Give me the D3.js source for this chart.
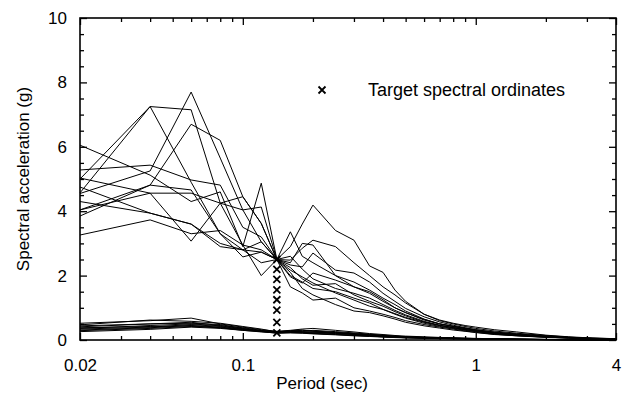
<!DOCTYPE html>
<html>
<head>
<meta charset="utf-8">
<script src="https://cdn.jsdelivr.net/npm/d3@7"></script>
<style>
  body { margin: 0; background: #fff; }
  text { font-family: "Liberation Sans", Arial, sans-serif; }
</style>
</head>
<body>
<div id="chart"></div>
<script>
// Data
const periods = [0.02, 0.04, 0.06, 0.08, 0.1, 0.12, 0.14, 0.16, 0.18, 0.2, 0.25, 0.3, 0.35, 0.4,
  0.45, 0.5, 0.6, 0.7, 0.8, 0.9, 1, 1.2, 1.5, 2, 2.5, 3, 4];

// scaled spectra (pass through the target at 0.14 s)
const scaled = [
  [4.55,5.25,7.7,5.65,4.04,3.05,2.5,2.17,1.96,1.77,1.46,1.24,1.05,0.95,0.82,0.7,0.55,0.45,0.38,0.32,0.27,0.2,0.15,0.1,0.07,0.05,0.03],
  [4.57,7.25,7.15,4.25,2.95,2.8,2.5,1.96,1.77,2.08,1.86,1.65,1.45,1.2,1.0,0.85,0.62,0.5,0.42,0.35,0.3,0.22,0.16,0.11,0.08,0.05,0.03],
  [5.0,7.25,4.9,3.3,2.8,2.73,2.5,2.33,2.27,2.7,2.17,2.08,1.8,1.45,1.2,0.98,0.72,0.56,0.46,0.38,0.32,0.25,0.19,0.12,0.08,0.06,0.03],
  [3.85,4.81,6.7,6.2,4.45,3.62,2.5,2.48,2.85,3.1,2.9,2.4,2.0,1.65,1.4,1.15,0.8,0.6,0.5,0.42,0.36,0.28,0.21,0.14,0.09,0.06,0.04],
  [4.04,4.56,4.56,4.25,4.04,4.13,2.5,2.9,3.6,4.19,3.4,3.1,2.3,2.1,1.55,1.2,0.8,0.62,0.52,0.45,0.4,0.32,0.25,0.15,0.1,0.07,0.04],
  [6.05,5.12,4.3,4.6,2.9,4.87,2.5,3.36,2.6,2.4,2.0,1.8,1.55,1.3,1.1,0.9,0.65,0.5,0.42,0.36,0.3,0.22,0.17,0.11,0.08,0.05,0.03],
  [3.26,3.73,3.3,3.4,2.95,2.0,2.5,1.65,1.46,1.24,1.3,1.0,0.9,0.8,0.7,0.6,0.48,0.4,0.34,0.28,0.24,0.18,0.13,0.09,0.06,0.04,0.02],
  [5.03,4.56,3.07,4.25,4.45,3.62,2.5,2.0,1.8,1.6,1.5,1.3,1.15,0.95,0.8,0.68,0.52,0.42,0.36,0.3,0.26,0.19,0.14,0.09,0.06,0.04,0.02],
  [4.04,4.81,4.66,3.3,2.58,2.73,2.5,2.25,1.9,1.7,1.75,1.4,1.2,1.05,0.88,0.75,0.56,0.45,0.38,0.32,0.28,0.21,0.16,0.1,0.07,0.05,0.03],
  [4.3,3.94,3.6,2.9,2.8,3.05,2.5,2.4,3.0,2.95,2.0,1.65,1.5,1.25,1.0,0.85,0.64,0.5,0.43,0.37,0.32,0.24,0.18,0.12,0.08,0.05,0.03],
  [5.28,5.43,4.97,4.81,3.5,3.2,2.5,2.1,1.6,1.4,1.1,0.9,0.85,0.75,0.65,0.55,0.44,0.37,0.31,0.27,0.23,0.17,0.13,0.08,0.06,0.04,0.02],
  [4.75,3.94,3.6,3.0,2.8,2.4,2.5,2.6,2.2,1.9,1.6,1.45,1.3,1.1,0.92,0.78,0.58,0.46,0.39,0.33,0.28,0.21,0.16,0.1,0.07,0.05,0.03]
];

// unscaled spectra
const unscaled = [
  [0.52,0.6,0.68,0.5,0.4,0.32,0.27,0.3,0.34,0.36,0.3,0.25,0.2,0.17,0.14,0.12,0.1,0.08,0.07,0.06,0.05,0.04,0.03,0.02,0.015,0.01,0.01],
  [0.47,0.62,0.58,0.52,0.42,0.34,0.25,0.28,0.3,0.28,0.24,0.2,0.17,0.14,0.12,0.1,0.08,0.07,0.06,0.05,0.045,0.035,0.025,0.018,0.012,0.01,0.01],
  [0.41,0.5,0.55,0.45,0.38,0.3,0.24,0.26,0.25,0.24,0.22,0.18,0.15,0.12,0.1,0.09,0.07,0.06,0.05,0.045,0.04,0.03,0.02,0.015,0.01,0.008,0.005],
  [0.36,0.45,0.5,0.44,0.35,0.28,0.23,0.24,0.27,0.3,0.26,0.22,0.18,0.15,0.12,0.1,0.08,0.065,0.055,0.05,0.045,0.035,0.025,0.015,0.01,0.008,0.005],
  [0.31,0.38,0.45,0.4,0.33,0.27,0.22,0.23,0.22,0.2,0.18,0.15,0.12,0.1,0.085,0.07,0.06,0.05,0.04,0.035,0.03,0.025,0.02,0.012,0.008,0.006,0.004],
  [0.26,0.33,0.4,0.36,0.3,0.26,0.21,0.22,0.21,0.19,0.16,0.13,0.11,0.09,0.075,0.065,0.05,0.042,0.036,0.032,0.028,0.022,0.016,0.01,0.007,0.005,0.003],
  [0.44,0.5,0.52,0.48,0.36,0.29,0.26,0.29,0.31,0.27,0.23,0.19,0.16,0.13,0.11,0.095,0.075,0.062,0.052,0.046,0.04,0.032,0.024,0.016,0.011,0.008,0.005],
  [0.38,0.42,0.44,0.38,0.32,0.27,0.24,0.25,0.24,0.22,0.2,0.17,0.14,0.11,0.095,0.08,0.065,0.055,0.046,0.04,0.035,0.028,0.02,0.013,0.009,0.006,0.004],
  [0.34,0.4,0.48,0.42,0.34,0.28,0.25,0.27,0.26,0.25,0.21,0.17,0.14,0.12,0.1,0.085,0.068,0.056,0.048,0.042,0.037,0.03,0.022,0.014,0.01,0.007,0.004],
  [0.29,0.36,0.42,0.38,0.3,0.25,0.22,0.24,0.23,0.21,0.17,0.14,0.12,0.1,0.085,0.072,0.058,0.048,0.04,0.035,0.03,0.024,0.018,0.011,0.008,0.005,0.003]
];

const targetPeriod = 0.14;
const targetValues = [2.5, 2.19, 1.88, 1.56, 1.25, 0.93, 0.55, 0.22];

const xMajor = [0.02, 0.1, 1, 4];
const xMinor = [0.03, 0.04, 0.05, 0.06, 0.07, 0.08, 0.09, 0.2, 0.3, 0.4, 0.5, 0.6, 0.7, 0.8, 0.9, 2, 3];
const yMajor = [0, 2, 4, 6, 8, 10];
const yMinor = d3.range(0.5, 10, 0.5).filter(v => v % 2 !== 0);

// Set up the SVG
const width = 629;
const height = 396;
const margin = { top: 18, right: 13, bottom: 56, left: 80 };
const w = width - margin.left - margin.right;
const h = height - margin.top - margin.bottom;

const svg = d3.select("#chart")
  .append("svg")
  .attr("width", width)
  .attr("height", height);

const g = svg.append("g")
  .attr("transform", `translate(${margin.left},${margin.top})`);

// Scales
const x = d3.scaleLog().domain([0.02, 4]).range([0, w]);
const y = d3.scaleLinear().domain([0, 10]).range([h, 0]);

const line = d3.line()
  .x((d, i) => x(periods[i]))
  .y(d => y(d));

// Spectra
g.selectAll(".lo")
  .data(unscaled)
  .enter()
  .append("path")
  .attr("class", "lo")
  .attr("d", line)
  .attr("fill", "none")
  .attr("stroke", "#000")
  .attr("stroke-width", 1);

g.selectAll(".hi")
  .data(scaled)
  .enter()
  .append("path")
  .attr("class", "hi")
  .attr("d", line)
  .attr("fill", "none")
  .attr("stroke", "#000")
  .attr("stroke-width", 1);

// Target markers
const cross = (sel, s) => sel.append("path")
  .attr("d", `M${-s},${-s}L${s},${s}M${-s},${s}L${s},${-s}`)
  .attr("stroke", "#000")
  .attr("stroke-width", 1.8)
  .attr("fill", "none");

g.selectAll(".target")
  .data(targetValues)
  .enter()
  .append("g")
  .attr("class", "target")
  .attr("transform", d => `translate(${x(targetPeriod)},${y(d)})`)
  .each(function () { cross(d3.select(this), 3.5); });

// Axes (ticks point inward)
function strip(sel) {
  sel.select(".domain").remove();
  sel.selectAll("text")
    .attr("font-family", "'Liberation Sans', Arial, sans-serif")
    .attr("font-size", 17)
    .attr("fill", "#000");
  sel.selectAll("line").attr("stroke", "#000").attr("stroke-width", 1.3);
}

g.append("g").attr("transform", `translate(0,${h})`)
  .call(d3.axisBottom(x).tickValues(xMinor).tickSize(-4).tickFormat("")).call(strip);
g.append("g").attr("transform", `translate(0,${h})`)
  .call(d3.axisBottom(x).tickValues(xMajor).tickSize(-7).tickPadding(19).tickFormat(d3.format("~g"))).call(strip);
g.append("g")
  .call(d3.axisTop(x).tickValues(xMinor).tickSize(-4).tickFormat("")).call(strip);
g.append("g")
  .call(d3.axisTop(x).tickValues(xMajor).tickSize(-7).tickFormat("")).call(strip);

g.append("g")
  .call(d3.axisLeft(y).tickValues(yMinor).tickSize(-4).tickFormat("")).call(strip);
g.append("g")
  .call(d3.axisLeft(y).tickValues(yMajor).tickSize(-7).tickPadding(13).tickFormat(d3.format("d"))).call(strip);
g.append("g").attr("transform", `translate(${w},0)`)
  .call(d3.axisRight(y).tickValues(yMinor).tickSize(-4).tickFormat("")).call(strip);
g.append("g").attr("transform", `translate(${w},0)`)
  .call(d3.axisRight(y).tickValues(yMajor).tickSize(-7).tickFormat("")).call(strip);

// Frame
g.append("rect")
  .attr("width", w)
  .attr("height", h)
  .attr("fill", "none")
  .attr("stroke", "#000")
  .attr("stroke-width", 1.6);

// Axis titles
svg.append("text")
  .attr("x", 322)
  .attr("y", 389)
  .attr("text-anchor", "middle")
  .attr("font-size", 17)
  .text("Period (sec)");

svg.append("text")
  .attr("transform", `translate(29,${margin.top + h / 2}) rotate(-90)`)
  .attr("text-anchor", "middle")
  .attr("font-size", 17)
  .text("Spectral acceleration (g)");

// Legend
const legend = svg.append("g").attr("transform", "translate(322,90)");
cross(legend, 3.5);
legend.append("text")
  .attr("x", 46)
  .attr("y", 6)
  .attr("font-size", 18)
  .text("Target spectral ordinates");
</script>
</body>
</html>
